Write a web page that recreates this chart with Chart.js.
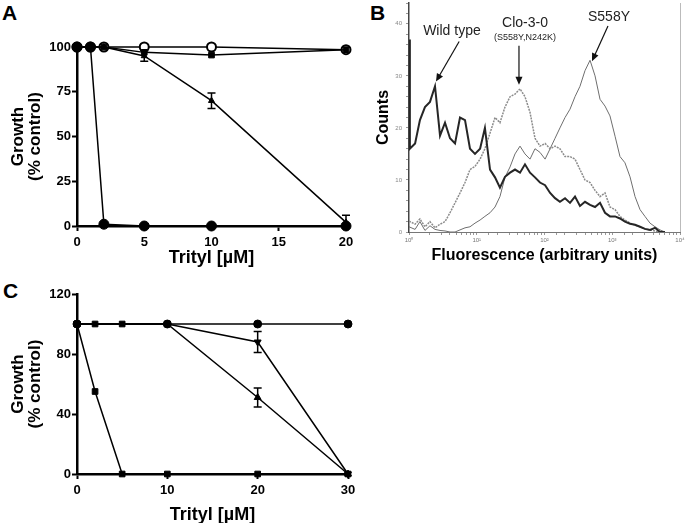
<!DOCTYPE html>
<html>
<head>
<meta charset="utf-8">
<script src="https://cdn.jsdelivr.net/npm/chart.js@4.4.1/dist/chart.umd.min.js"></script>
<style>
  body { margin: 0; width: 685px; height: 523px; overflow: hidden; background: #fff; position: relative; font-family: 'Liberation Sans', Arial, sans-serif; }
  canvas { position: absolute; }
  .letra { position: absolute; font-weight: bold; font-size: 21px; line-height: 21px; color: #000; }
</style>
</head>
<body>
<div class="letra" style="left:2px;top:2px">A</div>
<div class="letra" style="left:370px;top:2px">B</div>
<div class="letra" style="left:3px;top:280px">C</div>
<canvas id="grafico_a" width="355" height="270" style="left:0;top:0"></canvas>
<canvas id="grafico_b" width="315" height="270" style="left:370px;top:0"></canvas>
<canvas id="grafico_c" width="360" height="260" style="left:0;top:270px"></canvas>
<script>
// painel A - crescimento x trityl
const aDose = [0, 1, 2, 5, 10, 20];
const aSensivel = [100, 100, 1, 0, 0, 0];
const aAberto = [100, 100, 100, 100, 100, 98.5];
const aQuadrado = [100, 100, 100, 97, 95.5, 98.5];
const aTriangulo = [100, 100, 100, 95, 70, 2];
const aTrianguloErro = [0, 0, 0, 3, 4.3, 4];

// painel C
const cDose = [0, 2, 5, 10, 20, 30];
const cCirculo = [100, null, null, 100, 100, 100];
const cQuadradoTopo = [100, 100, 100, 100, null, null];
const cQuadrado = [100, 55, 0, 0, 0, 0];
const cInvertido = [100, null, null, 100, 88, 0];
const cInvertidoErro = [0, 0, 0, 0, 7, 0];
const cTriangulo = [100, null, null, 100, 51, 0];
const cTrianguloErro = [0, 0, 0, 0, 6.3, 0];

// painel B - histogramas de fluorescencia (canais)
const bCanal = [1.0, 1.03, 1.23, 1.45, 1.72, 2.04, 2.42, 2.87, 3.40, 4.03, 4.78, 5.66, 6.71, 7.95, 9.42,
  11.2, 13.2, 15.7, 18.6, 22.0, 26.1, 31.0, 36.7, 43.5, 51.5, 61.1, 72.4, 85.8,
  102, 121, 143, 169, 201, 238, 282, 334, 396, 470, 557, 660, 782, 926,
  1100, 1300, 1540, 1830, 2170, 2570, 3040, 3610, 4280, 5070, 6000];
const bSelvagem = [37, 16, 17, 21.5, 24, 25, 28, 18.5, 21, 18, 17, 22, 21.5, 16, 15,
  16, 20, 12, 10.5, 8.5, 10.6, 11.4, 12, 11.4, 13, 11.4, 10.5, 9.5,
  9, 7.5, 6.5, 5.8, 6.5, 5.6, 6.8, 5, 5.8, 5.2, 4.8, 5.6, 3.7, 3,
  3, 2.6, 2, 1.6, 1.4, 1, 0.6, 0.4, 0.8, 0, 0];
const bClo = [2, 2, 1.5, 2.5, 1, 2, 0.8, 1.5, 2, 3.7, 5.6, 7.5, 9.5, 12, 12.6,
  14, 16, 19, 22, 21, 24, 26, 26.5, 27.5, 26, 23, 18, 16.5,
  17, 16, 16.5, 16, 14.5, 14.5, 14, 12, 10, 9.5, 8, 6.8, 7.5, 4.8,
  4.3, 3, 2.3, 1.7, 1.3, 1, 0.6, 0.4, 0.2, 0, 0];
const bS558Y = [1, 1, 0.5, 2, 0.3, 1.2, 0.5, 0.3, 0.2, 0, 0, 0.4, 0.8, 1, 1.7,
  2.3, 3, 3.7, 4.8, 6.8, 10.5, 12.5, 15, 16.5, 15, 14, 16, 15.3,
  14, 16, 18, 20, 22, 23.6, 26, 28, 31, 33, 30, 25.5, 24.2, 22.3,
  18.4, 14.5, 13.3, 10.6, 6.8, 4.3, 3, 1.7, 1, 0.4, 0];
const bTicks = ['10\u2070', '10\u00b9', '10\u00b2', '10\u00b3', '10\u2074'];
const bRotulos = ['Wild type', 'Clo-3-0', '(S558Y,N242K)', 'S558Y'];

Chart.defaults.font.family = "'Liberation Sans', Arial, sans-serif";
Chart.defaults.color = '#000';
Chart.defaults.animation = false;
Chart.defaults.plugins.legend.display = false;
Chart.defaults.plugins.tooltip.enabled = false;

function fixarCaixa(tamanho) {
  return (escala) => {
    if (escala.isHorizontal()) escala.height = tamanho; else escala.width = tamanho;
    escala.paddingLeft = 0; escala.paddingRight = 0;
    escala.paddingTop = 0; escala.paddingBottom = 0;
  };
}

function pontos(xs, ys) {
  return xs.map((x, i) => ({ x: x, y: ys[i] }));
}

function serie(xs, ys, estilo, extra) {
  return Object.assign({
    data: pontos(xs, ys),
    borderColor: '#000',
    borderWidth: 1.5,
    pointStyle: estilo,
    pointRadius: 4.5,
    pointBackgroundColor: '#000',
    pointBorderColor: '#000',
    pointBorderWidth: 1,
    spanGaps: true,
    clip: false,
    tension: 0
  }, extra || {});
}

const barrasErro = {
  id: 'barrasErro',
  afterDatasetsDraw(chart) {
    const ctx = chart.ctx;
    const ex = chart.scales.x, ey = chart.scales.y;
    chart.data.datasets.forEach((ds) => {
      if (!ds.erros) return;
      ds.data.forEach((p, i) => {
        const e = ds.erros[i];
        if (!e || p.y == null) return;
        const px = ex.getPixelForValue(p.x);
        const topo = ey.getPixelForValue(p.y + e);
        const baixo = Math.max(p.y - e, ey.min);
        const base = ey.getPixelForValue(baixo);
        ctx.save();
        ctx.strokeStyle = '#000';
        ctx.lineWidth = 1.5;
        ctx.beginPath();
        ctx.moveTo(px, topo); ctx.lineTo(px, base);
        ctx.moveTo(px - 4, topo); ctx.lineTo(px + 4, topo);
        if (baixo === p.y - e) { ctx.moveTo(px - 4, base); ctx.lineTo(px + 4, base); }
        ctx.stroke();
        ctx.restore();
      });
    });
  }
};

function eixos(xMax, xPasso, yMax, yPasso, alturaX, tituloPad) {
  return {
    x: {
      type: 'linear', min: 0, max: xMax,
      afterFit: fixarCaixa(alturaX),
      ticks: { stepSize: xPasso, padding: 4, color: '#000', font: { size: 13, weight: 'bold' } },
      grid: { drawOnChartArea: false, tickLength: 5, tickWidth: 2, tickColor: '#000' },
      border: { color: '#000', width: 2.5 },
      title: { display: true, text: 'Trityl [\u00b5M]', color: '#000', font: { size: 18, weight: 'bold' }, padding: { top: 0, bottom: tituloPad } }
    },
    y: {
      min: 0, max: yMax,
      afterFit: fixarCaixa(77),
      ticks: { stepSize: yPasso, padding: 1, color: '#000', font: { size: 13, weight: 'bold' } },
      grid: { drawOnChartArea: false, tickLength: 5, tickWidth: 2, tickColor: '#000' },
      border: { color: '#000', width: 2.5 },
      title: { display: true, text: ['Growth', '(% control)'], color: '#000', font: { size: 17, weight: 'bold', lineHeight: 1 }, padding: { top: 10, bottom: 0 } }
    }
  };
}

new Chart(document.getElementById('grafico_a').getContext('2d'), {
  type: 'line',
  data: {
    datasets: [
      serie(aDose, aSensivel, 'circle', { pointRadius: 5 }),
      serie(aDose, aTriangulo, 'triangle', { pointRadius: 3.5, erros: aTrianguloErro }),
      serie(aDose, aQuadrado, 'rect', { pointRadius: 4 }),
      serie(aDose, aAberto, 'circle', { pointRadius: 4.5, pointBackgroundColor: '#fff', pointBorderWidth: 2 })
    ]
  },
  options: {
    responsive: false,
    layout: { padding: { left: 0, top: 47, right: 9, bottom: 0 } },
    scales: eixos(20, 5, 100, 25, 44, 1)
  },
  plugins: [barrasErro]
});

new Chart(document.getElementById('grafico_c').getContext('2d'), {
  type: 'line',
  data: {
    datasets: [
      serie(cDose, cCirculo, 'circle', { pointRadius: 4 }),
      serie(cDose, cQuadrado, 'rect', { pointRadius: 4 }),
      serie(cDose, cQuadradoTopo, 'rect', { pointRadius: 4 }),
      serie(cDose, cInvertido, 'triangle', { pointRadius: 4, rotation: 180, erros: cInvertidoErro }),
      serie(cDose, cTriangulo, 'triangle', { pointRadius: 4, erros: cTrianguloErro })
    ]
  },
  options: {
    responsive: false,
    layout: { padding: { left: 0, top: 24, right: 12, bottom: 0 } },
    scales: eixos(30, 10, 120, 40, 56, 4)
  },
  plugins: [barrasErro]
});

// setas e rotulos do histograma
const anotacoes = [
  { texto: bRotulos[0], x: 4.3, y: 38.5, tamanho: 14, de: [5.5, 36.6], para: [2.5, 28.9] },
  { texto: bRotulos[1], x: 51.5, y: 40.2, tamanho: 14, de: [42, 35.8], para: [42, 28.3] },
  { texto: bRotulos[2], x: 51.5, y: 37.4, tamanho: 9 },
  { texto: bRotulos[3], x: 895, y: 41.3, tamanho: 14, de: [865, 39.6], para: [502, 32.8] }
];

const rotulosB = {
  id: 'rotulosB',
  afterDraw(chart) {
    const ctx = chart.ctx;
    const ex = chart.scales.x, ey = chart.scales.y;
    const area = chart.chartArea;
    ctx.save();
    ctx.strokeStyle = '#bbb';
    ctx.lineWidth = 1;
    ctx.beginPath();
    ctx.moveTo(area.right + 0.5, area.top);
    ctx.lineTo(area.right + 0.5, area.bottom);
    ctx.stroke();
    anotacoes.forEach((a) => {
      ctx.fillStyle = '#222';
      ctx.font = a.tamanho + "px 'Liberation Sans', Arial, sans-serif";
      ctx.textAlign = 'center';
      ctx.textBaseline = 'middle';
      ctx.fillText(a.texto, ex.getPixelForValue(a.x), ey.getPixelForValue(a.y));
      if (!a.de) return;
      const x1 = ex.getPixelForValue(a.de[0]), y1 = ey.getPixelForValue(a.de[1]);
      const x2 = ex.getPixelForValue(a.para[0]), y2 = ey.getPixelForValue(a.para[1]);
      const ang = Math.atan2(y2 - y1, x2 - x1);
      ctx.strokeStyle = '#111';
      ctx.lineWidth = 1.2;
      ctx.beginPath();
      ctx.moveTo(x1, y1);
      ctx.lineTo(x2 - 5 * Math.cos(ang), y2 - 5 * Math.sin(ang));
      ctx.stroke();
      ctx.fillStyle = '#111';
      ctx.beginPath();
      ctx.moveTo(x2, y2);
      ctx.lineTo(x2 - 8 * Math.cos(ang) + 3.5 * Math.sin(ang), y2 - 8 * Math.sin(ang) - 3.5 * Math.cos(ang));
      ctx.lineTo(x2 - 8 * Math.cos(ang) - 3.5 * Math.sin(ang), y2 - 8 * Math.sin(ang) + 3.5 * Math.cos(ang));
      ctx.closePath();
      ctx.fill();
    });
    ctx.restore();
  }
};

new Chart(document.getElementById('grafico_b').getContext('2d'), {
  type: 'line',
  data: {
    datasets: [
      { data: pontos(bCanal, bSelvagem), borderColor: '#262626', borderWidth: 2, pointRadius: 0, tension: 0 },
      { data: pontos(bCanal, bClo), borderColor: '#8c8c8c', borderWidth: 1.5, borderDash: [2, 1], pointRadius: 0, tension: 0 },
      { data: pontos(bCanal, bS558Y), borderColor: '#6e6e6e', borderWidth: 1, pointRadius: 0, tension: 0 }
    ]
  },
  options: {
    responsive: false,
    layout: { padding: { left: 0, top: 3, right: 5, bottom: 0 } },
    scales: {
      x: {
        type: 'logarithmic', min: 1, max: 10000,
        afterFit: fixarCaixa(38),
        ticks: {
          autoSkip: false, maxRotation: 0, padding: 2, color: '#777', font: { size: 6 },
          callback: (v) => {
            const e = Math.log10(v);
            return Math.abs(e - Math.round(e)) < 1e-9 ? bTicks[Math.round(e)] : '';
          }
        },
        grid: { drawOnChartArea: false, tickLength: 3, tickWidth: 1, tickColor: '#999' },
        border: { color: '#777', width: 1 },
        title: { display: true, text: 'Fluorescence (arbitrary units)', color: '#000', font: { size: 16, weight: 'bold' }, padding: { top: 0, bottom: 5 } }
      },
      y: {
        min: 0, max: 44,
        afterFit: fixarCaixa(39),
        ticks: { stepSize: 2, padding: 4, color: '#888', font: { size: 6 }, callback: (v) => (v % 10 === 0 ? v : '') },
        grid: { drawOnChartArea: false, tickLength: 3, tickWidth: 1, tickColor: '#999' },
        border: { color: '#444', width: 1.5 },
        title: { display: true, text: 'Counts', color: '#000', font: { size: 16, weight: 'bold' }, padding: { top: 4, bottom: 0 } }
      }
    }
  },
  plugins: [rotulosB]
});
</script>
</body>
</html>
